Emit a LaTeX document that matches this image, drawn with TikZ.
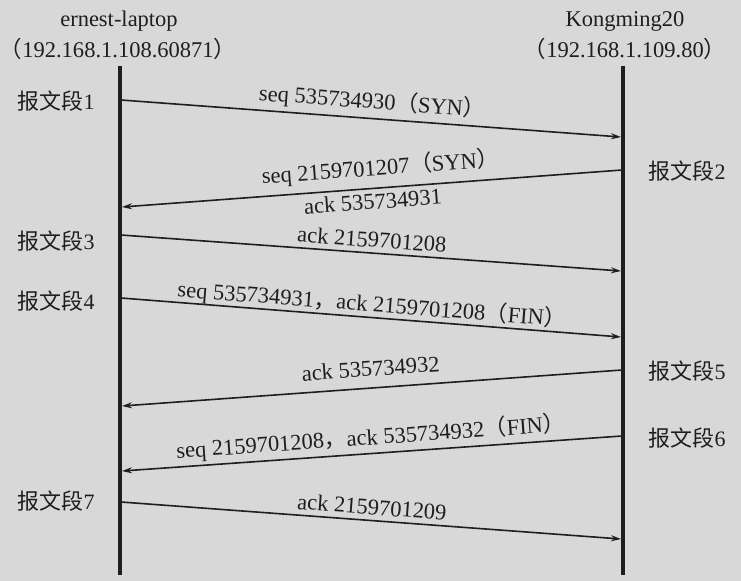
\documentclass[tikz,border=0pt]{standalone}
\usepackage{fontspec}
\setmainfont{Liberation Serif}
\newfontfamily\cjk{Noto Sans CJK SC}
\usetikzlibrary{arrows.meta}
\definecolor{bg}{RGB}{216,216,216}
\definecolor{ink}{RGB}{30,30,30}
\newcommand{\fp}[1]{{\cjk #1}}
\begin{document}
\begin{tikzpicture}[x=1bp,y=-1bp,
  every node/.style={text=ink,font=\fontsize{22.5bp}{26bp}\selectfont},
  life/.style={draw=ink,line width=4.5bp},
  msg/.style={draw=ink,line width=1.6bp,-{Stealth[length=10bp,width=6bp]}},
  lbl/.style={sloped,inner sep=1bp,text height=15bp,text depth=4bp},
  seg/.style={inner sep=0bp,font=\fontsize{22bp}{26bp}\selectfont}]
\fill[bg] (0,0) rectangle (741,581);
\useasboundingbox (0,0) rectangle (741,581);
% titles
\node (tA) at (119,21) {ernest-laptop};
\node (tA2) at (118,49) {\fp{（}192.168.1.108.60871\fp{）}};
\node (tB) at (625,21) {Kongming20};
\node (tB2) at (625,49) {\fp{（}192.168.1.109.80\fp{）}};
% lifelines
\coordinate (Atop) at (120,66);
\coordinate (Abot) at (120,575);
\coordinate (Btop) at (623,66);
\coordinate (Bbot) at (623,575);
\draw[life] (Atop) -- (Abot);
\draw[life] (Btop) -- (Bbot);
% endpoints
\coordinate (a1) at (121,100); \coordinate (b1) at (621,137);
\coordinate (b2) at (622,170); \coordinate (a2) at (122,207);
\coordinate (a3) at (121,235); \coordinate (b3) at (621,271);
\coordinate (a4) at (121,298); \coordinate (b4) at (621,337);
\coordinate (b5) at (622,370); \coordinate (a5) at (122,406);
\coordinate (b6) at (622,436); \coordinate (a6) at (122,471);
\coordinate (a7) at (121,502); \coordinate (b7) at (621,539);
% messages
\draw[msg] (a1) -- node[lbl,above=4bp] (m1) {seq 535734930\fp{（}SYN\fp{）}} (b1);
\draw[msg] (b2) -- node[lbl,above=7bp,pos=0.48] (m2) {seq 2159701207\fp{（}SYN\fp{）}}
                   node[lbl,below=4bp] (m2b) {ack 535734931} (a2);
\draw[msg] (a3) -- node[lbl,above=0bp] (m3) {ack 2159701208} (b3);
\draw[msg] (a4) -- node[lbl,above=0bp] (m4) {seq 535734931\fp{，}ack 2159701208\fp{（}FIN\fp{）}} (b4);
\draw[msg] (b5) -- node[lbl,above=6bp] (m5) {ack 535734932} (a5);
\draw[msg] (b6) -- node[lbl,above=3bp] (m6) {seq 2159701208\fp{，}ack 535734932\fp{（}FIN\fp{）}} (a6);
\draw[msg] (a7) -- node[lbl,above=0bp] (m7) {ack 2159701209} (b7);
% segment labels
\node[seg] (s1) at (56,101) {\fp{报文段}1};
\node[seg] (s2) at (687,171) {\fp{报文段}2};
\node[seg] (s3) at (56,241) {\fp{报文段}3};
\node[seg] (s4) at (56,301) {\fp{报文段}4};
\node[seg] (s5) at (687,371) {\fp{报文段}5};
\node[seg] (s6) at (687,438) {\fp{报文段}6};
\node[seg] (s7) at (56,501) {\fp{报文段}7};
\end{tikzpicture}
\end{document}
